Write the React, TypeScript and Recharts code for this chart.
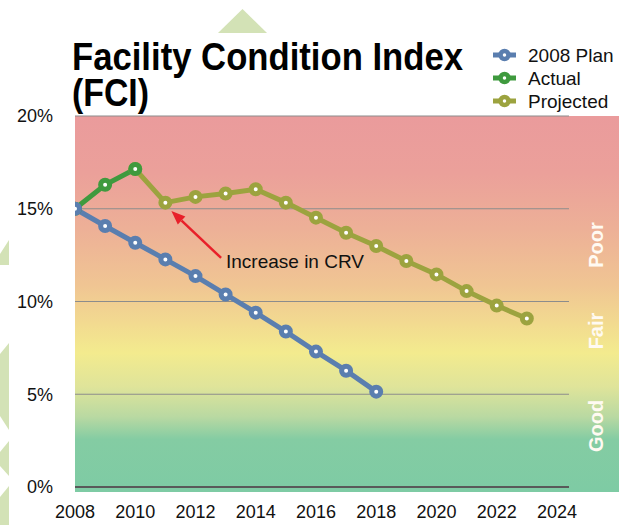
import { LineChart, Line, XAxis, YAxis, CartesianGrid, ReferenceLine } from 'recharts'

const years = [2008, 2009, 2010, 2011, 2012, 2013, 2014, 2015, 2016, 2017, 2018, 2019, 2020, 2021, 2022, 2023]
const plan2008 = [15, 14.07, 13.17, 12.27, 11.37, 10.38, 9.4, 8.38, 7.3, 6.27, 5.14]
const actual = [15, 16.29, 17.14]
const projected = [null, null, 17.14, 15.33, 15.64, 15.82, 16.05, 15.33, 14.52, 13.71, 12.99, 12.18, 11.46, 10.56, 9.78, 9.08]
const yearTicks = [2008, 2010, 2012, 2014, 2016, 2018, 2020, 2022, 2024]
const pctTicks = [0, 5, 10, 15, 20]
const bands = ['Poor', 'Fair', 'Good']

const legendItems = [
  { name: '2008 Plan', color: '#5a7eaf' },
  { name: 'Actual', color: '#3f9a3e' },
  { name: 'Projected', color: '#9ca33f' },
]

const data = years.map((year, i) => ({
  year,
  plan: plan2008[i] ?? null,
  actual: actual[i] ?? null,
  projected: projected[i] ?? null,
}))

const font = '"Liberation Sans", Arial, sans-serif'

// arrow from label to the 2011 point
const arrowShape = (props: any) => {
  const { x1, y1, x2, y2 } = props
  const ang = Math.atan2(y2 - y1, x2 - x1)
  const len = 14
  const w = 5.5
  const bx = x2 - len * Math.cos(ang)
  const by = y2 - len * Math.sin(ang)
  const px = -Math.sin(ang) * w
  const py = Math.cos(ang) * w
  return (
    <g>
      <line x1={x1} y1={y1} x2={bx} y2={by} stroke="#e8202a" strokeWidth={2.5} />
      <polygon points={`${x2},${y2} ${bx + px},${by + py} ${bx - px},${by - py}`} fill="#e8202a" />
    </g>
  )
}

export default function App() {
  return (
    <div style={{ position: 'absolute', left: 0, top: 0, width: 622, height: 525, background: '#fff', overflow: 'hidden', fontFamily: font }}>
      {/* zone background */}
      <div
        style={{
          position: 'absolute',
          left: 75,
          top: 116,
          width: 544,
          height: 376,
          background:
            'linear-gradient(to bottom, #ea9b9c 0%, #eba09a 15%, #edb097 30%, #f0c593 45%, #f2da90 55%, #f3eb8e 63%, #dfe49a 72%, #b9d9a2 80%, #84cca3 86%, #7ecba4 100%)',
        }}
      />
      <div style={{ position: 'absolute', left: 0, top: 0 }}>
        <LineChart width={622} height={525} data={data} margin={{ top: 116, right: 53, left: 0, bottom: 0 }}>
          <CartesianGrid vertical={false} stroke="#8c8c8c" strokeWidth={1.2} />
          <XAxis
            dataKey="year"
            type="number"
            domain={[2008, 2024.4]}
            ticks={yearTicks}
            allowDataOverflow
            height={38}
            tickSize={0}
            tickMargin={18}
            axisLine={{ stroke: '#595959', strokeWidth: 2 }}
            tick={{ fill: '#111', fontSize: 18, fontFamily: font }}
          />
          <YAxis
            type="number"
            domain={[0, 20]}
            ticks={pctTicks}
            width={75}
            tickSize={0}
            tickMargin={22}
            axisLine={false}
            tickFormatter={(v: number) => `${v}%`}
            tick={{ fill: '#111', fontSize: 18, fontFamily: font }}
          />
          <ReferenceLine
            segment={[
              { x: 2012.85, y: 12.35 },
              { x: 2011.2, y: 14.88 },
            ]}
            shape={arrowShape}
          />
          <Line
            dataKey="projected"
            stroke="#9ca33f"
            strokeWidth={5}
            dot={{ r: 4.5, strokeWidth: 5, fill: '#fff', stroke: '#9ca33f' }}
            isAnimationActive={false}
          />
          <Line
            dataKey="actual"
            stroke="#3f9a3e"
            strokeWidth={5}
            dot={{ r: 4.5, strokeWidth: 5, fill: '#fff', stroke: '#3f9a3e' }}
            isAnimationActive={false}
          />
          <Line
            dataKey="plan"
            stroke="#5a7eaf"
            strokeWidth={5}
            dot={{ r: 4.5, strokeWidth: 5, fill: '#fff', stroke: '#5a7eaf' }}
            isAnimationActive={false}
          />
        </LineChart>
      </div>

      {/* title, legend, labels */}
      <svg width={622} height={525} style={{ position: 'absolute', left: 0, top: 0, pointerEvents: 'none' }}>
        <polygon points="242.5,9 218,33 267,33" fill="#d3e2b6" />
        <polygon points="0,254 9,240 9,265 0,265" fill="#d3e2b6" />
        <polygon points="0,354 9,343 9,430 0,416" fill="#d3e2b6" />
        <polygon points="0,452 9,441 9,476 0,466" fill="#d3e2b6" />
        <polygon points="0,497 9,486 9,525 0,525" fill="#d3e2b6" />

        <text x={72} y={70} fontSize={39} fontWeight="bold" fontFamily={font} fill="#000" textLength={391} lengthAdjust="spacingAndGlyphs">
          Facility Condition Index
        </text>
        <text x={72} y={106} fontSize={39} fontWeight="bold" fontFamily={font} fill="#000" textLength={77} lengthAdjust="spacingAndGlyphs">
          (FCI)
        </text>

        {legendItems.map((item, i) => {
          const cy = 55 + i * 23
          return (
            <g key={item.name}>
              <line x1={493} y1={cy} x2={516} y2={cy} stroke={item.color} strokeWidth={5} />
              <circle cx={504.5} cy={cy} r={4} fill="#fff" stroke={item.color} strokeWidth={4.5} />
              <text x={528} y={cy + 6.5} fontSize={19} fontFamily={font} fill="#111">
                {item.name}
              </text>
            </g>
          )
        })}

        <text x={226} y={268} fontSize={19} fontFamily={font} fill="#111">
          Increase in CRV
        </text>

        {bands.map((b, i) => {
          const cy = [245, 331, 426][i]
          return (
            <text
              key={b}
              x={0}
              y={0}
              transform={`translate(603 ${cy}) rotate(-90)`}
              textAnchor="middle"
              fontSize={20}
              fontWeight="bold"
              fontFamily={font}
              fill="#fffaf2"
            >
              {b}
            </text>
          )
        })}
      </svg>
    </div>
  )
}
